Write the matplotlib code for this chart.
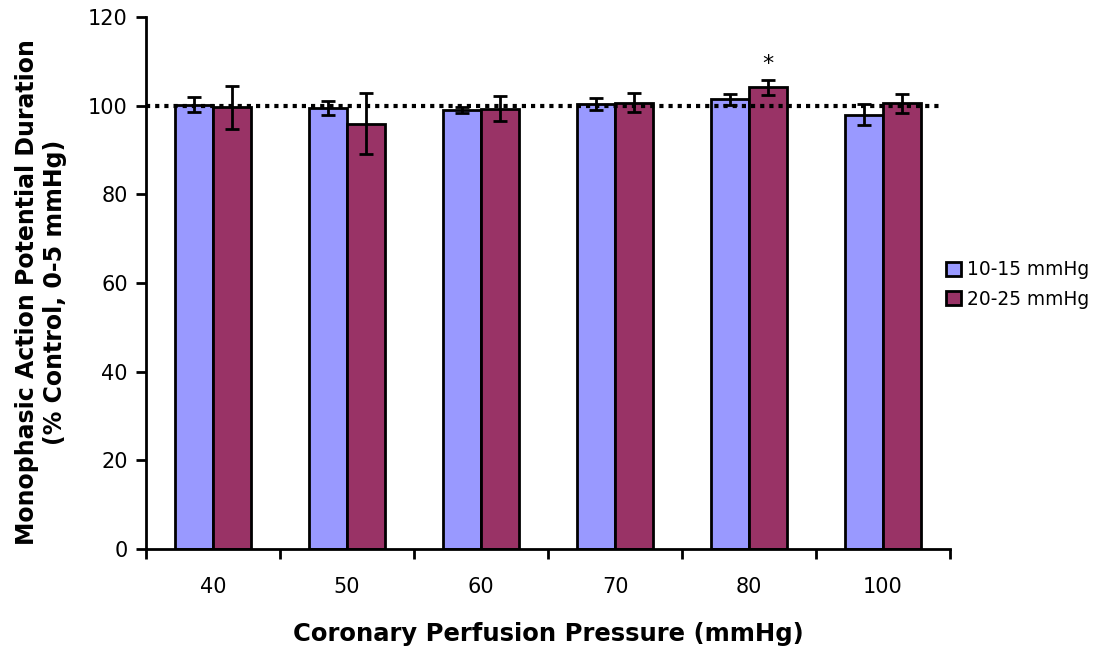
import matplotlib
matplotlib.use('Agg')
import matplotlib.pyplot as plt
import numpy as np

# data
pressures = ['40', '50', '60', '70', '80', '100']
low_mean = [100.2, 99.5, 99.0, 100.4, 101.4, 98.0]
low_err = [1.7, 1.6, 0.75, 1.4, 1.3, 2.4]
high_mean = [99.6, 95.9, 99.3, 100.7, 104.1, 100.5]
high_err = [4.8, 6.9, 2.8, 2.1, 1.6, 2.2]
series_names = ['10-15 mmHg', '20-25 mmHg']
control_level = 100

plt.rcParams['font.family'] = ['DejaVu Sans']

fig = plt.figure(figsize=(11.01, 6.48), dpi=100)
ax = fig.add_axes([0.1326, 0.1528, 0.7303, 0.821])

x = np.arange(len(pressures))
w = 0.285
ekw = dict(elinewidth=2, capthick=2, capsize=5, ecolor='black')
ax.bar(x - w / 2, low_mean, w, yerr=low_err, color='#9999FF', edgecolor='black',
       linewidth=2, error_kw=ekw, label=series_names[0])
ax.bar(x + w / 2, high_mean, w, yerr=high_err, color='#993366', edgecolor='black',
       linewidth=2, error_kw=ekw, label=series_names[1])

ax.plot([-0.5, len(pressures) - 0.57], [control_level, control_level], color='black',
        linestyle=(0, (1, 1.2)), linewidth=3, zorder=1.5)

# significance marker
ax.text(x[4] + w / 2, high_mean[4] + high_err[4] + 1.5, '*', ha='center', va='bottom',
        fontsize=16)

ax.set_xlim(-0.5, len(pressures) - 0.5)
ax.set_ylim(0, 120)
ax.set_yticks(range(0, 121, 20))
ax.set_xticks(x)
ax.set_xticklabels(pressures)
ax.set_xticks(np.arange(-0.5, len(pressures)), minor=True)
ax.tick_params(axis='x', which='major', length=0, labelsize=15, pad=20)
ax.tick_params(axis='x', which='minor', length=7, width=2, direction='out')
ax.tick_params(axis='y', length=7, width=2, direction='out', labelsize=15, pad=6)

for s in ['top', 'right']:
    ax.spines[s].set_visible(False)
for s in ['left', 'bottom']:
    ax.spines[s].set_linewidth(2)

ax.set_xlabel('Coronary Perfusion Pressure (mmHg)', fontsize=17.5, fontweight='bold',
              labelpad=18)
ax.set_ylabel('Monophasic Action Potential Duration\n(% Control, 0-5 mmHg)',
              fontsize=17, fontweight='bold')
ax.yaxis.set_label_coords(-0.098, 0.483)

leg = ax.legend(loc='center left', bbox_to_anchor=(0.995, 0.497), frameon=False,
                fontsize=13.4, handlelength=0.8, handleheight=0.8, handletextpad=0.3,
                labelspacing=0.55, borderaxespad=0, borderpad=0)

fig.savefig('out.png', dpi=100)
